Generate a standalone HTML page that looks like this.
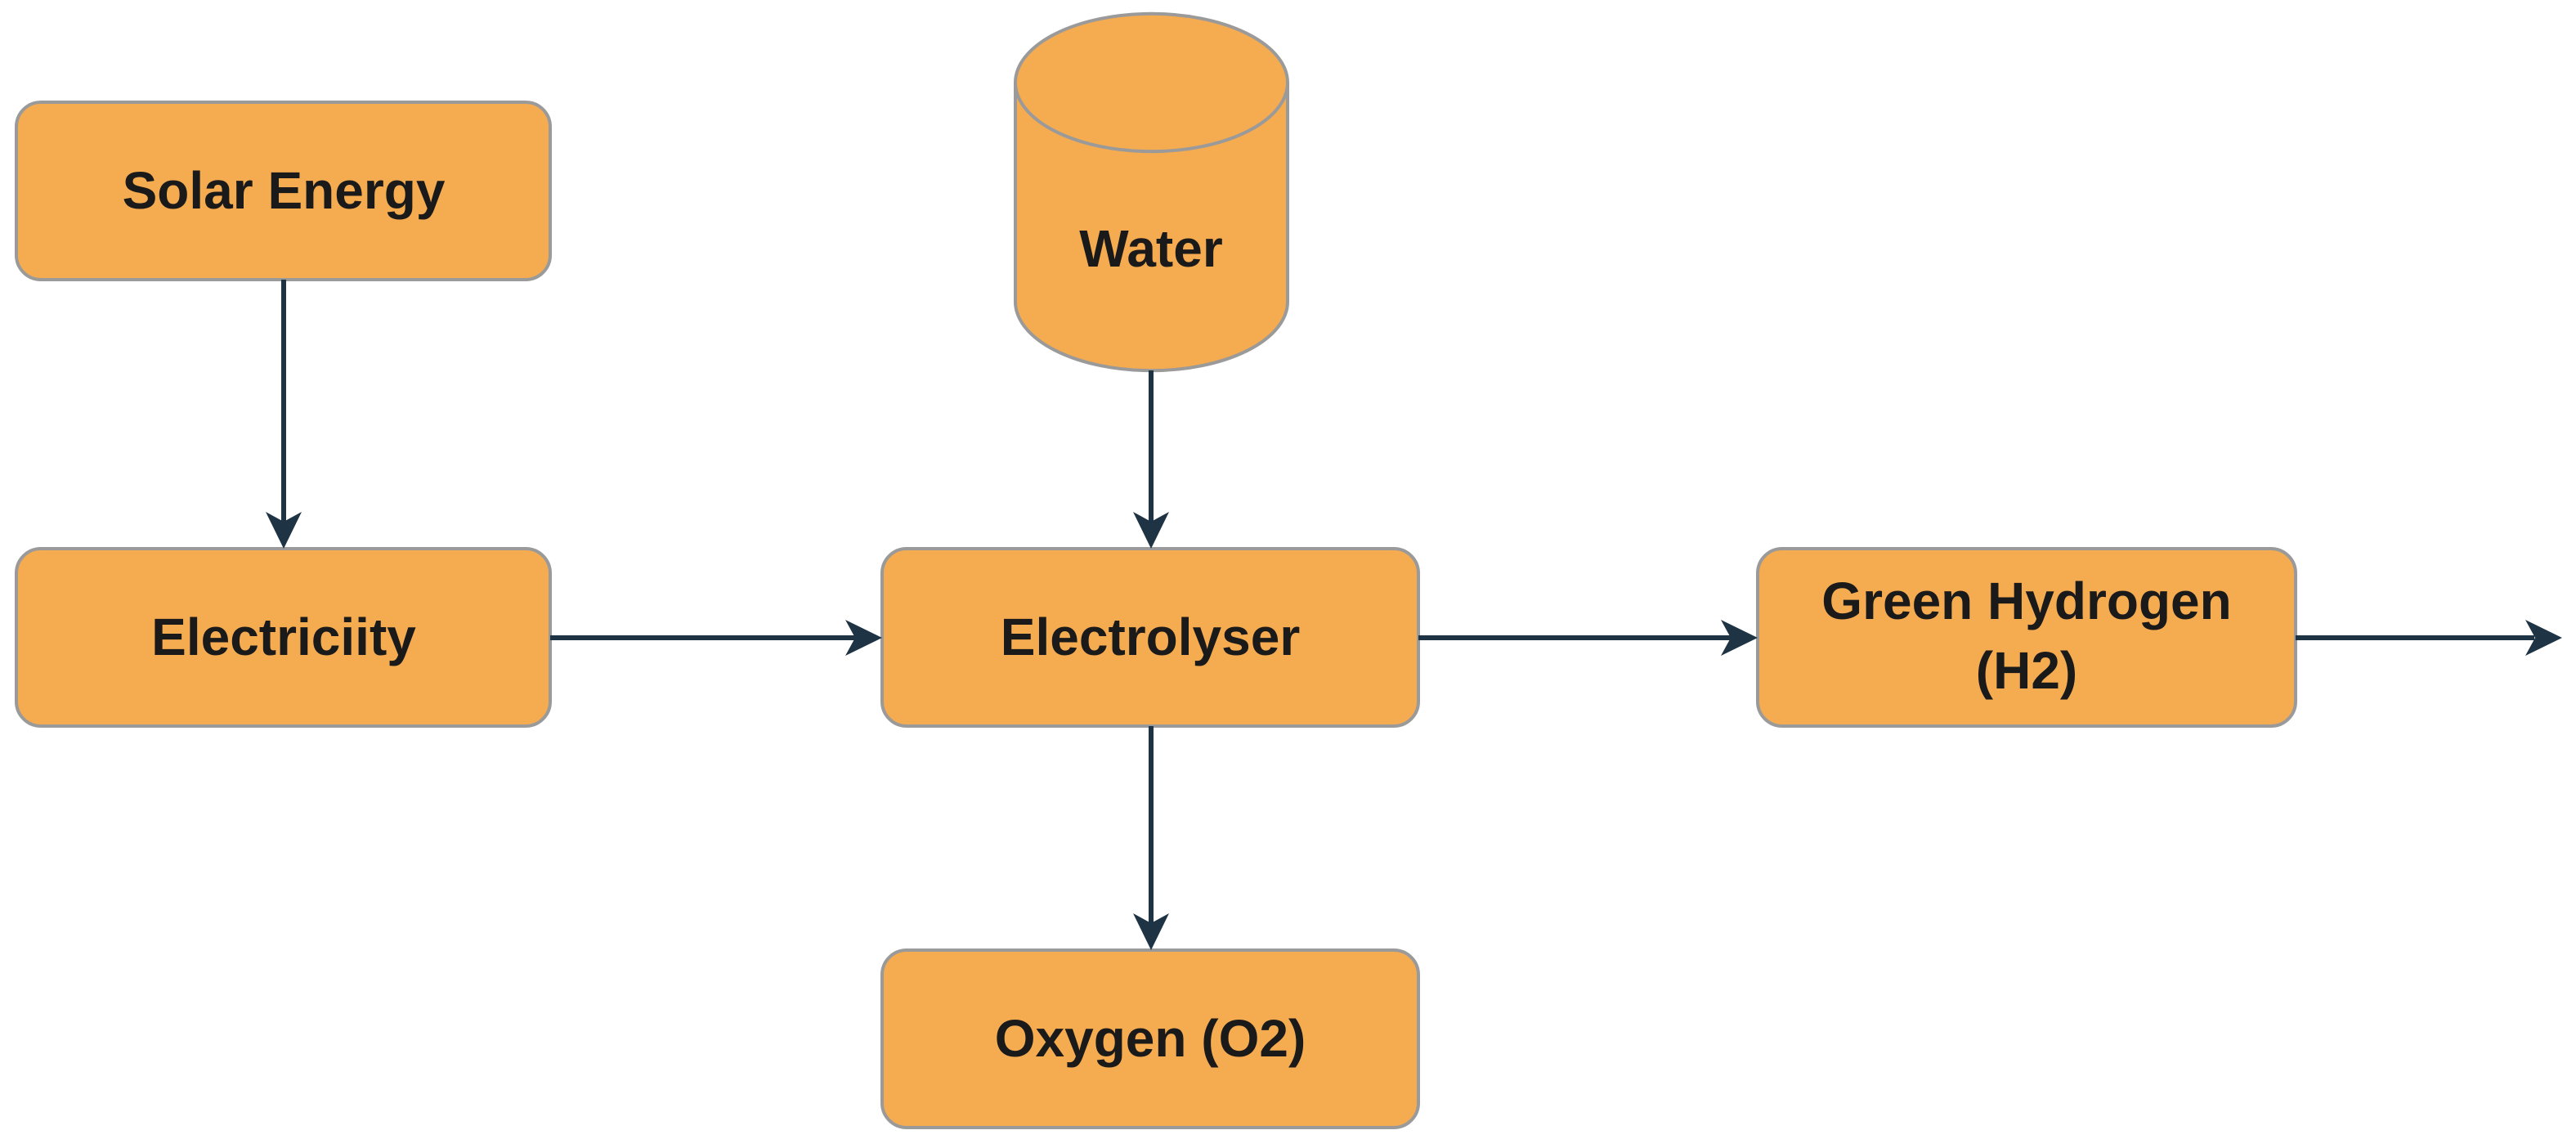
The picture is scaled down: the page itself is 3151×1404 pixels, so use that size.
<!DOCTYPE html>
<html><head><meta charset="utf-8"><style>
html,body{margin:0;padding:0;background:#fff;}
svg{display:block}
text{font-family:"Liberation Sans",Arial,sans-serif;font-weight:bold;font-size:64px;fill:#1a1a1a;text-anchor:middle;dominant-baseline:central}
</style></head><body>
<svg width="3151" height="1404" viewBox="0 0 3151 1404" xmlns="http://www.w3.org/2000/svg">
<defs>
<marker id="a" markerWidth="12" markerHeight="12" refX="10" refY="6" orient="auto" markerUnits="userSpaceOnUse" viewBox="0 0 12 12">
</marker>
</defs>
<rect width="3151" height="1404" fill="#fff"/>
<g fill="#f5ab50" stroke="#9a9a9a" stroke-width="4">
<rect x="20" y="125" width="653" height="217" rx="30"/>
<rect x="20" y="671" width="653" height="217" rx="30"/>
<rect x="1079" y="671" width="656" height="217" rx="30"/>
<rect x="2150" y="671" width="658" height="217" rx="30"/>
<rect x="1079" y="1162" width="656" height="217" rx="30"/>
<path d="M1242,101 A166,84 0 0 1 1575,101 L1575,369 A166,84 0 0 1 1242,369 Z"/>
<path d="M1242,101 A166,84 0 0 0 1575,101" fill="none"/>
</g>
<g stroke="#1e3344" stroke-width="6" fill="none">
<line x1="347" y1="342" x2="347" y2="640"/>
<line x1="1408" y1="453" x2="1408" y2="640"/>
<line x1="673" y1="780" x2="1048" y2="780"/>
<line x1="1735" y1="780" x2="2118" y2="780"/>
<line x1="2808" y1="780" x2="3100" y2="780"/>
<line x1="1408" y1="888" x2="1408" y2="1130"/>
</g>
<g fill="#1e3344">
<path d="M347,671 L325,626 L347,638 L369,626 Z"/>
<path d="M1408,671 L1386,626 L1408,638 L1430,626 Z"/>
<path d="M1408,1162 L1386,1117 L1408,1129 L1430,1117 Z"/>
<path d="M1079,780 L1034,758 L1046,780 L1034,802 Z"/>
<path d="M2150,780 L2105,758 L2117,780 L2105,802 Z"/>
<path d="M3134,780 L3089,758 L3101,780 L3089,802 Z"/>
</g>
<text x="347" y="233">Solar Energy</text>
<text x="347" y="779">Electriciity</text>
<text x="1407" y="779">Electrolyser</text>
<text x="1408" y="304">Water</text>
<text x="2479" y="735">Green Hydrogen</text>
<text x="2479" y="820">(H2)</text>
<text x="1407" y="1270">Oxygen (O2)</text>
</svg>
</body></html>
